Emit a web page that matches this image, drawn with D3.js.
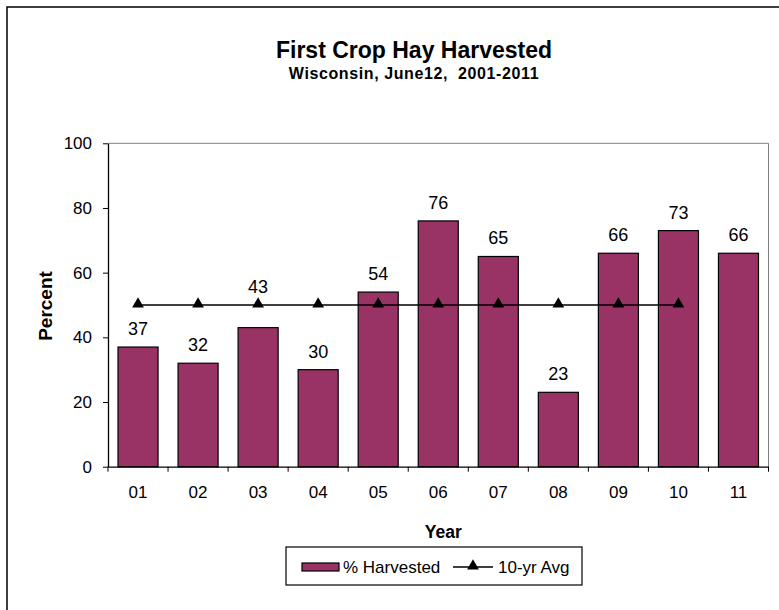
<!DOCTYPE html>
<html><head><meta charset="utf-8">
<script src="https://cdn.jsdelivr.net/npm/d3@7"></script>
<style>body{margin:0;background:#fff;}svg{display:block;font-family:"Liberation Sans",Arial,sans-serif;}</style>
</head><body>
<svg id="c" width="779" height="610"></svg>
<script>
const years = ["01","02","03","04","05","06","07","08","09","10","11"];
const harvested = [37,32,43,30,54,76,65,23,66,73,66];
const avgYears = ["01","02","03","04","05","06","07","08","09","10"];
const avgValues = [50,50,50,50,50,50,50,50,50,50];
const yTicks = [0,20,40,60,80,100];

const svg = d3.select("#c");
const L = 108, R = 768.5, T = 143.3, B = 466.7;
const x = d3.scaleBand().domain(years).range([L, R]).paddingInner(1/3).paddingOuter(1/6);
const xb = d3.scaleBand().domain(years).range([L, R]);
const y = d3.scaleLinear().domain([0,100]).range([B, T]);
const FONT = "Liberation Sans, Arial, sans-serif";

svg.append("rect").attr("x",7).attr("y",7).attr("width",900).attr("height",900)
  .attr("fill","none").attr("stroke","#000").attr("stroke-width",1.5);

// plot border (gray)
svg.append("path").attr("d",`M${L},${T}H${R}V${B}`).attr("fill","none").attr("stroke","#808080").attr("stroke-width",1);

// bars
svg.append("g").selectAll("rect").data(years).join("rect")
  .attr("x", d=>x(d)).attr("width", x.bandwidth())
  .attr("y", (d,i)=>y(harvested[i])).attr("height",(d,i)=>B-y(harvested[i]))
  .attr("fill","#993366").attr("stroke","#000").attr("stroke-width",1.2);

// avg line
const cx = d=>xb(d)+xb.bandwidth()/2;
svg.append("path").datum(avgYears)
  .attr("d", d3.line().x(d=>cx(d)).y((d,i)=>y(avgValues[i])))
  .attr("fill","none").attr("stroke","#000").attr("stroke-width",1.3);
const tri = d3.symbol().type(d3.symbolTriangle).size(60);
svg.append("g").selectAll("path").data(avgYears).join("path")
  .attr("d", tri).attr("transform",(d,i)=>`translate(${cx(d)},${y(avgValues[i])-1})`).attr("fill","#000");

// value labels (moved above the average line when they would collide with it)
function labelY(d,i){
  let by = y(harvested[i]) - 12;
  const ai = avgYears.indexOf(d);
  if (ai >= 0) {
    const ly = y(avgValues[ai]);
    if (by > ly - 4 && by - 14 < ly + 6) by = ly - 12;
  }
  return by;
}
svg.append("g").selectAll("text").data(years).join("text")
  .attr("x", d=>x(d)+x.bandwidth()/2).attr("y",labelY)
  .attr("text-anchor","middle").attr("font-size",18).text((d,i)=>harvested[i]);

// axes
const ya = svg.append("g").attr("transform",`translate(${L},0)`)
  .call(d3.axisLeft(y).tickValues(yTicks).tickSize(5).tickPadding(11).tickSizeOuter(0));
ya.select(".domain").attr("stroke","#000").attr("stroke-width",1.3);
ya.selectAll("text").attr("font-size",17).attr("fill","#000").attr("font-family",FONT);

const xa = svg.append("g").attr("transform",`translate(0,${B})`)
  .call(d3.axisBottom(xb).tickSize(0).tickPadding(19).tickSizeOuter(0));
xa.select(".domain").attr("stroke","#000").attr("stroke-width",1.3);
xa.selectAll("text").attr("font-size",17).attr("fill","#000").attr("font-family",FONT);
svg.append("g").selectAll("line").data(d3.range(years.length+1)).join("line")
  .attr("x1",i=>L+i*xb.step()).attr("x2",i=>L+i*xb.step())
  .attr("y1",B).attr("y2",B+5).attr("stroke","#000");

// titles
svg.append("text").attr("x",414).attr("y",58).attr("text-anchor","middle")
  .attr("font-size",23).attr("font-weight","bold").text("First Crop Hay Harvested");
svg.append("text").attr("x",414).attr("y",79).attr("text-anchor","middle").style("white-space","pre")
  .attr("font-size",16).attr("letter-spacing",0.6).attr("font-weight","bold").text("Wisconsin, June12,  2001-2011");
svg.append("text").attr("transform",`translate(52,306) rotate(-90)`).attr("text-anchor","middle")
  .attr("font-size",19).attr("font-weight","bold").text("Percent");
svg.append("text").attr("x",(L+R)/2+5).attr("y",538).attr("text-anchor","middle")
  .attr("font-size",17.5).attr("font-weight","bold").text("Year");

// legend
const lg = svg.append("g");
lg.append("rect").attr("x",286).attr("y",547).attr("width",296).attr("height",38)
  .attr("fill","#fff").attr("stroke","#000").attr("stroke-width",1.2);
lg.append("rect").attr("x",302).attr("y",563).attr("width",37).attr("height",8)
  .attr("fill","#993366").attr("stroke","#000").attr("stroke-width",1.2);
lg.append("text").attr("x",343).attr("y",573).attr("font-size",17).text("% Harvested");
lg.append("line").attr("x1",453).attr("x2",493).attr("y1",567).attr("y2",567).attr("stroke","#000").attr("stroke-width",1.3);
lg.append("path").attr("d",tri).attr("transform","translate(473,566)").attr("fill","#000");
lg.append("text").attr("x",498).attr("y",573).attr("font-size",17).text("10-yr Avg");
</script>
</body></html>
